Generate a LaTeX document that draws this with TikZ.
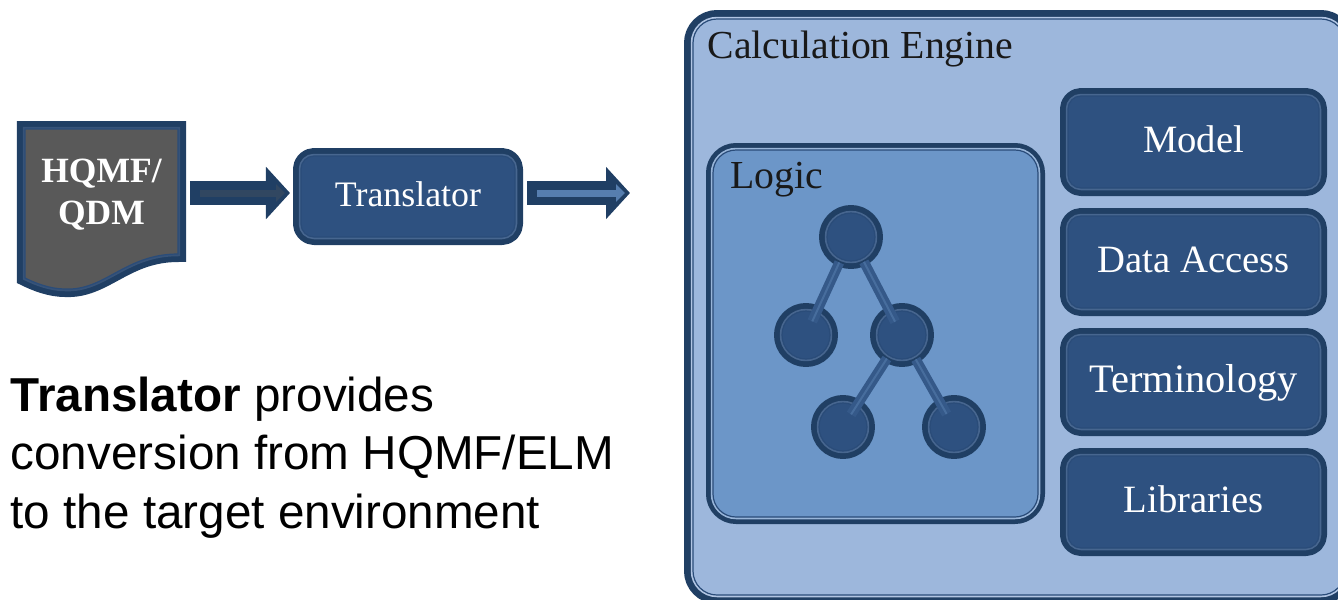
\documentclass[tikz,border=0pt]{standalone}
\usepackage{fontspec}
\setmainfont{Liberation Serif}
\newfontfamily\captionfont{Liberation Sans}
\usetikzlibrary{arrows.meta}
\definecolor{ringdark}{HTML}{203F64}
\definecolor{ringmid}{HTML}{2A4C79}
\definecolor{boxface}{HTML}{2E5180}
\definecolor{engineface}{HTML}{9DB7DC}
\definecolor{logicface}{HTML}{6C96C8}
\definecolor{docface}{HTML}{595959}
\tikzset{
	ringed/.style n args={2}{draw=ringmid, line width=0.012cm, outer sep=0, inner sep=0, line join=round, preaction={draw=ringdark, line width=#1}, preaction={draw=#2, line width=0.045cm}},
	modbox/.style={ringed={0.16cm}{boxface!88!white}, fill=boxface, text=white, rounded corners=0.13cm, minimum width=2.51cm, minimum height=0.92cm, font=\fontsize{11}{12}\selectfont, text height=7pt, text depth=1.3pt},
	treenode/.style={ringed={0.16cm}{boxface!88!white}, fill=boxface, circle, minimum size=0.48cm},
	treelink/.style={draw=boxface!88!logicface, line width=0.1cm, shorten <=0.04cm, shorten >=-0.09cm, postaction={draw=boxface!60!logicface, line width=0.02cm}},
	blockarrow/.style={draw=ringdark, line width=0.24cm, shorten <=0.12cm, shorten >=0.11cm, -{Triangle[length=0.24cm,width=0.51cm]}, postaction={draw=#1, line width=0.07cm, shorten <=0.22cm, shorten >=0.16cm, -{Triangle[length=0.09cm,width=0.17cm]}}},
	headtext/.style={anchor=base west, inner sep=0, text=black!90, font=\fontsize{11.3}{13}\selectfont}
}

\begin{document}
\begin{tikzpicture}
	\useasboundingbox (0, 0) rectangle (13.38, 5.99);
	%%%%% LEFT SIDE %%%%%
	\draw[ringed={0.16cm}{boxface!80!docface}, fill=docface] (0.25, 4.70) -- (1.78, 4.70) -- (1.78, 3.45) .. controls (1.25, 3.45) and (1.05, 3.08) .. (0.65, 3.10) .. controls (0.5, 3.10) and (0.35, 3.16) .. (0.25, 3.21) -- cycle;
	\node[minimum width=1.53cm, inner sep=0, outer sep=0, align=center, text=white, font=\bfseries\fontsize{10.1}{12}\selectfont] (doc) at (1.015, 4.045) {HQMF/\\QDM};

	\node[modbox, minimum width=2.14cm, minimum height=0.81cm, font=\fontsize{10.2}{12}\selectfont] (translator) at (4.08, 4.025) {Translator};
	\coordinate (out) at (6.41, 4.06);

	\draw[blockarrow=ringdark!70!docface] ([yshift=0.015cm]doc.east) -- ([yshift=0.015cm]doc.east -| translator.west);
	\draw[blockarrow=boxface!35!logicface] (translator.east |- out) -- (out);

	\node[anchor=north west, inner sep=0, align=left, font=\captionfont\fontsize{13.55}{16.65}\selectfont] (caption) at (0.10, 2.23) {\textbf{Translator} provides\\conversion from HQMF/ELM\\to the target environment};

	%%%%% ENGINE %%%%%
	\node[ringed={0.18cm}{engineface!80!white}, fill=engineface, rounded corners=0.24cm, minimum width=6.52cm, minimum height=5.76cm] (engine) at (10.19, 2.92) {};
	\node[headtext] (enginelabel) at (7.07, 5.41) {Calculation Engine};

	\node[modbox] (model) at (11.935, 4.57) {Model};
	\node[modbox] (data) at (11.935, 3.37) {Data Access};
	\node[modbox, font=\fontsize{11.5}{12}\selectfont] (terminology) at (11.935, 2.17) {Terminology};
	\node[modbox] (libraries) at (11.935, 0.97) {Libraries};

	%%%%% LOGIC TREE %%%%%
	\node[ringed={0.14cm}{logicface!70!white}, fill=logicface, rounded corners=0.23cm, minimum width=3.25cm, minimum height=3.67cm] (logic) at (8.755, 2.655) {};
	\node[headtext] (logiclabel) at (7.30, 4.11) {Logic};

	\node[treenode] (root) at (8.51, 3.62) {};
	\node[treenode] (left) at (8.06, 2.64) {};
	\node[treenode] (mid) at (9.02, 2.64) {};
	\node[treenode] (midleft) at (8.43, 1.72) {};
	\node[treenode] (midright) at (9.54, 1.72) {};

	\draw[treelink] (root) -- (left);
	\draw[treelink] (root) -- (mid);
	\draw[treelink] (mid) -- (midleft);
	\draw[treelink] (mid) -- (midright);
\end{tikzpicture}
\end{document}
